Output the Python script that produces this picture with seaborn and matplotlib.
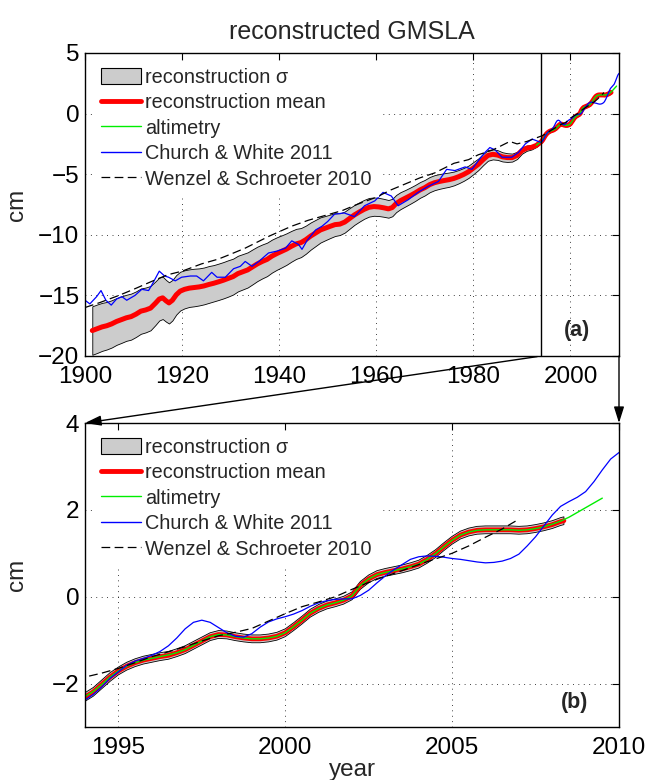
import numpy as np
import pandas as pd
import matplotlib
matplotlib.use("Agg")
import matplotlib.pyplot as plt
from matplotlib.patches import Patch, ConnectionPatch
from matplotlib.lines import Line2D
import seaborn as sns

# ---------------------------------------------------------------------------
# Data (cm, global mean sea level anomaly)
# ---------------------------------------------------------------------------
recon_years = [
    1901.5, 1902.5, 1903.5, 1904.5, 1905.5, 1906.5, 1907.5, 1908.5, 1909.5,
    1910.5, 1911.5, 1912.5, 1913.5, 1914.5, 1915.3, 1916.0, 1916.7, 1917.3,
    1918.0, 1918.8, 1919.6, 1920.5, 1921.5, 1922.5, 1923.5, 1924.5, 1925.5,
    1926.5, 1927.5, 1928.5, 1929.5, 1930.5, 1931.5, 1932.5, 1933.5, 1934.5,
    1935.5, 1936.5, 1937.5, 1938.5, 1939.5, 1940.5, 1941.5, 1942.5, 1943.5,
    1944.5, 1945.5, 1946.5, 1947.5, 1948.5, 1949.5, 1950.5, 1951.5, 1952.5,
    1953.5, 1954.5, 1955.5, 1956.5, 1957.5, 1958.5, 1959.5, 1960.5, 1961.5,
    1962.5, 1963.3, 1964.1, 1965.0, 1966.0, 1967.0, 1968.0, 1969.0, 1970.0,
    1971.0, 1972.0, 1973.0, 1974.0, 1975.0, 1976.0, 1977.0, 1978.0, 1979.0,
    1980.0, 1981.0, 1982.0, 1983.0, 1984.0, 1985.0, 1986.0, 1987.0, 1988.0,
    1989.0, 1990.0, 1991.0, 1992.0, 1993.0,
    1994.00, 1994.25, 1994.50, 1994.75, 1995.00, 1995.25, 1995.50, 1995.75,
    1996.00, 1996.25, 1996.50, 1996.75, 1997.00, 1997.25, 1997.50, 1997.75,
    1998.00, 1998.25, 1998.50, 1998.75, 1999.00, 1999.25, 1999.50, 1999.75,
    2000.00, 2000.25, 2000.50, 2000.75, 2001.00, 2001.25, 2001.50, 2001.75,
    2002.00, 2002.25, 2002.50, 2002.75, 2003.00, 2003.25, 2003.50, 2003.75,
    2004.00, 2004.25, 2004.50, 2004.75, 2005.00, 2005.25, 2005.50, 2005.75,
    2006.00, 2006.25, 2006.50, 2006.75, 2007.00, 2007.25, 2007.50, 2007.75,
    2008.00, 2008.25, 2008.35,
]
recon_mean = [
    -17.90, -17.75, -17.60, -17.50, -17.35, -17.15, -17.00, -16.85, -16.75,
    -16.55, -16.30, -16.20, -16.05, -15.65, -15.30, -15.20, -15.45, -15.62,
    -15.40, -14.95, -14.65, -14.50, -14.40, -14.35, -14.30, -14.22, -14.10,
    -14.00, -13.88, -13.75, -13.60, -13.45, -13.20, -13.05, -12.90, -12.65,
    -12.40, -12.20, -12.03, -11.76, -11.55, -11.37, -11.18, -10.95, -10.75,
    -10.64, -10.40, -10.10, -9.85, -9.60, -9.45, -9.30, -9.16, -9.12,
    -8.95, -8.65, -8.36, -8.12, -7.90, -7.73, -7.67, -7.70, -7.77,
    -7.86, -7.75, -7.42, -7.18, -6.98, -6.77, -6.55, -6.30, -6.11,
    -5.86, -5.70, -5.60, -5.52, -5.45, -5.35, -5.20, -5.02, -4.80,
    -4.50, -4.19, -3.80, -3.45, -3.36, -3.42, -3.57, -3.63, -3.63,
    -3.45, -3.05, -2.85, -2.78, -2.62,
    -2.31, -2.19, -2.02, -1.85, -1.71, -1.60, -1.52, -1.46,
    -1.42, -1.38, -1.35, -1.29, -1.22, -1.12, -1.02, -0.92,
    -0.87, -0.88, -0.92, -0.95, -0.97, -0.97, -0.95, -0.91,
    -0.83, -0.69, -0.54, -0.38, -0.27, -0.19, -0.14, -0.08,
    0.02, 0.26, 0.41, 0.51, 0.56, 0.60, 0.64, 0.69,
    0.75, 0.86, 0.99, 1.15, 1.30, 1.42, 1.49, 1.53,
    1.54, 1.54, 1.54, 1.54, 1.53, 1.54, 1.57, 1.61,
    1.66, 1.73, 1.75,
]
recon_sigma = [
    2.00, 2.00, 1.98, 1.96, 1.95, 1.93, 1.92, 1.90, 1.90,
    1.88, 1.87, 1.85, 1.83, 1.80, 1.77, 1.75, 1.72, 1.70,
    1.67, 1.63, 1.60, 1.57, 1.55, 1.55, 1.53, 1.52, 1.52,
    1.50, 1.50, 1.50, 1.50, 1.48, 1.47, 1.46, 1.45, 1.44,
    1.42, 1.40, 1.38, 1.36, 1.34, 1.32, 1.30, 1.27, 1.24,
    1.20, 1.16, 1.12, 1.08, 1.04, 1.00, 0.97, 0.94, 0.90,
    0.87, 0.85, 0.82, 0.80, 0.78, 0.77, 0.76, 0.75, 0.74,
    0.73, 0.72, 0.71, 0.70, 0.68, 0.67, 0.66, 0.65, 0.64,
    0.63, 0.62, 0.61, 0.60, 0.59, 0.57, 0.55, 0.53, 0.51,
    0.50, 0.48, 0.46, 0.44, 0.42, 0.40, 0.38, 0.36, 0.33,
    0.30, 0.26, 0.22, 0.18, 0.13,
    0.10, 0.10, 0.10, 0.10, 0.09, 0.09, 0.09, 0.09,
    0.09, 0.09, 0.09, 0.09, 0.09, 0.09, 0.09, 0.09,
    0.09, 0.09, 0.09, 0.09, 0.09, 0.09, 0.09, 0.09,
    0.09, 0.09, 0.09, 0.09, 0.09, 0.09, 0.09, 0.09,
    0.09, 0.09, 0.09, 0.09, 0.09, 0.09, 0.09, 0.09,
    0.09, 0.09, 0.09, 0.09, 0.09, 0.09, 0.09, 0.09,
    0.09, 0.09, 0.09, 0.09, 0.09, 0.09, 0.09, 0.09,
    0.09, 0.09, 0.09,
]

alt_years = [
    1993.0, 1993.5,
    1994.00, 1994.25, 1994.50, 1994.75, 1995.00, 1995.25, 1995.50, 1995.75,
    1996.00, 1996.25, 1996.50, 1996.75, 1997.00, 1997.25, 1997.50, 1997.75,
    1998.00, 1998.25, 1998.50, 1998.75, 1999.00, 1999.25, 1999.50, 1999.75,
    2000.00, 2000.25, 2000.50, 2000.75, 2001.00, 2001.25, 2001.50, 2001.75,
    2002.00, 2002.25, 2002.50, 2002.75, 2003.00, 2003.25, 2003.50, 2003.75,
    2004.00, 2004.25, 2004.50, 2004.75, 2005.00, 2005.25, 2005.50, 2005.75,
    2006.00, 2006.25, 2006.50, 2006.75, 2007.00, 2007.25, 2007.50, 2007.75,
    2008.00, 2008.25, 2008.50, 2008.75, 2009.00, 2009.25, 2009.50,
]
alt_gmsl = [
    -2.60, -2.45,
    -2.30, -2.18, -2.02, -1.85, -1.71, -1.60, -1.52, -1.46,
    -1.42, -1.38, -1.34, -1.29, -1.22, -1.12, -1.02, -0.92,
    -0.87, -0.88, -0.92, -0.95, -0.97, -0.97, -0.95, -0.91,
    -0.83, -0.69, -0.54, -0.38, -0.27, -0.19, -0.14, -0.08,
    0.02, 0.26, 0.41, 0.51, 0.56, 0.60, 0.64, 0.69,
    0.75, 0.86, 0.99, 1.15, 1.30, 1.42, 1.49, 1.53,
    1.54, 1.54, 1.54, 1.54, 1.53, 1.54, 1.57, 1.61,
    1.67, 1.74, 1.83, 1.94, 2.05, 2.16, 2.27,
]

cw_years = [
    1900.0, 1901.0, 1902.4, 1903.3, 1904.3, 1905.4, 1906.5, 1907.6, 1908.6,
    1910.3, 1911.7, 1913.1, 1914.1, 1915.3, 1916.4, 1917.2, 1918.6, 1919.9,
    1921.7, 1923.0, 1924.4, 1926.1, 1927.2, 1928.9, 1930.6, 1932.0, 1933.0,
    1934.4, 1935.8, 1937.8, 1939.5, 1941.3, 1942.6, 1944.0, 1944.7, 1945.7,
    1947.5, 1948.8, 1950.0, 1951.4, 1953.4, 1955.5, 1957.6, 1959.7, 1961.4,
    1963.1, 1964.5, 1966.6, 1968.6, 1970.7, 1972.8, 1974.5, 1976.2, 1978.3,
    1979.7, 1981.0, 1982.4, 1983.4, 1984.5, 1985.9, 1987.9, 1989.3, 1990.7,
    1992.1, 1993.4,
    1994.00, 1994.25, 1994.50, 1994.75, 1995.00, 1995.25, 1995.50, 1995.75,
    1996.00, 1996.25, 1996.50, 1996.75, 1997.00, 1997.25, 1997.50, 1997.75,
    1998.00, 1998.25, 1998.50, 1998.75, 1999.00, 1999.25, 1999.50, 1999.75,
    2000.00, 2000.25, 2000.50, 2000.75, 2001.00, 2001.25, 2001.50, 2001.75,
    2002.00, 2002.25, 2002.50, 2002.75, 2003.00, 2003.25, 2003.50, 2003.75,
    2004.00, 2004.25, 2004.50, 2004.75, 2005.00, 2005.25, 2005.50, 2005.75,
    2006.00, 2006.25, 2006.50, 2006.75, 2007.00, 2007.25, 2007.50, 2007.75,
    2008.00, 2008.25, 2008.50, 2008.75, 2009.00, 2009.25, 2009.50, 2009.75,
    2010.00,
]
cw_gmsl = [
    -15.4, -15.7, -15.1, -14.6, -15.4, -15.8, -15.3, -15.1, -15.4,
    -15.0, -14.5, -14.6, -13.9, -13.0, -13.4, -13.5, -13.8, -13.5,
    -13.4, -13.4, -13.8, -13.1, -13.5, -13.5, -12.8, -12.6, -12.2,
    -12.6, -12.2, -11.5, -11.35, -11.1, -10.5, -10.8, -11.2, -10.5,
    -9.6, -9.3, -8.9, -8.3, -8.2, -8.5, -7.6, -7.2, -6.5,
    -6.8, -7.6, -7.1, -6.5, -6.0, -5.6, -4.6, -4.7, -4.4,
    -4.6, -3.9, -3.2, -2.8, -3.0, -3.6, -3.6, -3.2, -2.5,
    -2.1, -2.3,
    -2.38, -2.25, -2.08, -1.88, -1.73, -1.58, -1.48, -1.42,
    -1.35, -1.26, -1.13, -0.95, -0.74, -0.59, -0.54, -0.59,
    -0.71, -0.83, -0.91, -0.93, -0.85, -0.70, -0.58, -0.51,
    -0.46, -0.40, -0.32, -0.22, -0.14, -0.09, -0.06, -0.05,
    -0.05, 0.03, 0.15, 0.32, 0.48, 0.62, 0.74, 0.86,
    0.92, 0.94, 0.93, 0.91, 0.88, 0.86, 0.83, 0.80,
    0.78, 0.79, 0.82, 0.88, 0.98, 1.17, 1.38, 1.63,
    1.88, 2.08, 2.19, 2.29, 2.42, 2.65, 2.92, 3.17,
    3.32,
]

ws_years = [
    1900.0, 1903.0, 1907.0, 1910.0, 1914.0, 1917.0, 1920.0, 1924.0, 1927.5,
    1930.0, 1933.0, 1936.0, 1938.0, 1942.5, 1946.0, 1949.5, 1953.0, 1956.0,
    1960.0, 1963.0, 1966.0, 1969.0, 1972.0, 1976.0, 1979.0, 1981.0, 1984.0,
    1987.5, 1989.0, 1991.0, 1993.0,
    1994.0, 1994.5, 1995.0, 1995.5, 1996.0, 1996.5, 1997.0, 1997.5, 1998.0,
    1998.5, 1999.0, 1999.5, 2000.0, 2000.5, 2001.0, 2001.5, 2002.0, 2002.5,
    2003.0, 2003.5, 2004.0, 2004.5, 2005.0, 2005.5, 2006.0, 2006.5, 2006.9,
]
ws_gmsl = [
    -16.0, -15.6, -15.0, -14.5, -13.8, -13.3, -13.0, -12.4, -12.0,
    -11.6, -11.1, -10.5, -10.1, -9.3, -8.8, -8.4, -8.0, -7.5,
    -6.9, -6.3, -5.8, -5.3, -4.9, -4.1, -3.8, -3.4, -3.0,
    -2.3, -2.5, -2.3, -2.0,
    -1.85, -1.76, -1.65, -1.52, -1.38, -1.27, -1.15, -1.02, -0.90,
    -0.82, -0.73, -0.56, -0.39, -0.23, -0.12, 0.00, 0.17, 0.33,
    0.47, 0.60, 0.74, 0.87, 1.00, 1.17, 1.37, 1.56, 1.74,
]

zoom_start = 1994
zoom_end = 2010

series_labels = ["reconstruction σ", "reconstruction mean", "altimetry",
                 "Church & White 2011", "Wenzel & Schroeter 2010"]

# ---------------------------------------------------------------------------
# Styling
# ---------------------------------------------------------------------------
sns.set_style("white")
plt.rcParams["font.family"] = ["Liberation Sans", "DejaVu Sans"]
plt.rcParams["axes.linewidth"] = 1.0
plt.rcParams["axes.edgecolor"] = "black"

BAND_FACE = "#cccccc"
RED = "#ff0000"
GREEN = "#00ee00"
BLUE = "#0000ff"
DASH = (0, (7, 3.5))

recon = pd.DataFrame({"year": recon_years, "mean": recon_mean, "sigma": recon_sigma})
recon["lo"] = recon["mean"] - recon["sigma"]
recon["hi"] = recon["mean"] + recon["sigma"]
alt = pd.DataFrame({"year": alt_years, "gmsl": alt_gmsl})
cw = pd.DataFrame({"year": cw_years, "gmsl": cw_gmsl})
ws = pd.DataFrame({"year": ws_years, "gmsl": ws_gmsl})

fig = plt.figure(figsize=(6.45, 7.8), dpi=100)
W, H = 645.0, 780.0
AX_W = 534.0
ax1 = fig.add_axes([85 / W, 1 - 356 / H, AX_W / W, 303 / H])
ax2 = fig.add_axes([85 / W, 1 - 727 / H, AX_W / W, 304 / H])

TICK_FS = 17.5


def draw_panel(ax, red_lw, ax_h):
    ax.fill_between(recon["year"], recon["lo"], recon["hi"],
                    facecolor=BAND_FACE, edgecolor="black", linewidth=0.6, zorder=2)
    sns.lineplot(data=recon, x="year", y="mean", ax=ax, color=RED, lw=red_lw,
                 estimator=None, sort=False, legend=False, zorder=3)
    sns.lineplot(data=alt, x="year", y="gmsl", ax=ax, color=GREEN, lw=1.0,
                 estimator=None, sort=False, legend=False, zorder=4)
    sns.lineplot(data=cw, x="year", y="gmsl", ax=ax, color=BLUE, lw=0.9,
                 estimator=None, sort=False, legend=False, zorder=5)
    sns.lineplot(data=ws, x="year", y="gmsl", ax=ax, color="black", lw=0.9,
                 linestyle=DASH, estimator=None, sort=False,
                 legend=False, zorder=5)

    ax.grid(True, color="black", linewidth=0.6, linestyle=(0, (1, 5.5)), zorder=1)
    ax.set_axisbelow(True)
    ax.tick_params(direction="in", length=5, width=0.8, top=True, right=True,
                   labelsize=TICK_FS, pad=4, colors="black")
    ax.tick_params(axis="x", pad=7)
    ax.set_xlabel("")
    ax.set_ylabel("cm", fontsize=TICK_FS)
    ax.yaxis.set_label_coords(-0.107, 0.5)
    for s in ax.spines.values():
        s.set_visible(True)
        s.set_color("black")
        s.set_zorder(10)

    handles = [
        Patch(facecolor=BAND_FACE, edgecolor="black", linewidth=0.8),
        Line2D([], [], color=RED, lw=3.5),
        Line2D([], [], color=GREEN, lw=1.0),
        Line2D([], [], color=BLUE, lw=1.0),
        Line2D([], [], color="black", lw=0.9, linestyle=DASH),
    ]
    leg = ax.legend(handles, series_labels, loc="upper left",
                    bbox_to_anchor=(9 / AX_W, 1 - 8 / ax_h), borderaxespad=0,
                    borderpad=0.35, fontsize=14.3, frameon=True, fancybox=False,
                    facecolor="white", edgecolor="white", framealpha=1,
                    handlelength=2.0, handleheight=0.9, handletextpad=0.22,
                    labelspacing=0.32)
    leg.set_zorder(6)


draw_panel(ax1, 3.6, 303)
ax1.axvline(zoom_start, color="black", lw=1.0, zorder=6)
ax1.set_xlim(1900, 2010)
ax1.set_ylim(-20, 5)
ax1.set_xticks(np.arange(1900, 2001, 20))
ax1.set_yticks(np.arange(-20, 6, 5))
ax1.set_title("reconstructed GMSLA", fontsize=18, pad=10)
ax1.text(0.921, 0.085, "(a)", transform=ax1.transAxes, ha="center",
         va="center", fontsize=15.5, fontweight="bold")

draw_panel(ax2, 3.4, 304)
ax2.set_xlim(zoom_start, zoom_end)
ax2.set_ylim(-3, 4)
ax2.set_xticks([1995, 2000, 2005, 2010])
ax2.set_yticks([-2, 0, 2, 4])
ax2.set_xlabel("year", fontsize=TICK_FS, labelpad=0)
ax2.text(0.917, 0.082, "(b)", transform=ax2.transAxes, ha="center",
         va="center", fontsize=15.5, fontweight="bold")

# Zoom indicator arrows from the overview to the detail panel
for xa in (zoom_start, zoom_end):
    con = ConnectionPatch(xyA=(xa, -20), coordsA=ax1.transData,
                          xyB=(xa, 4), coordsB=ax2.transData,
                          arrowstyle="-|>,head_length=0.7,head_width=0.22",
                          shrinkA=3 if xa == zoom_start else 0, shrinkB=0,
                          color="black", lw=1.0, mutation_scale=14)
    fig.add_artist(con)

fig.savefig("out.png", dpi=100)
